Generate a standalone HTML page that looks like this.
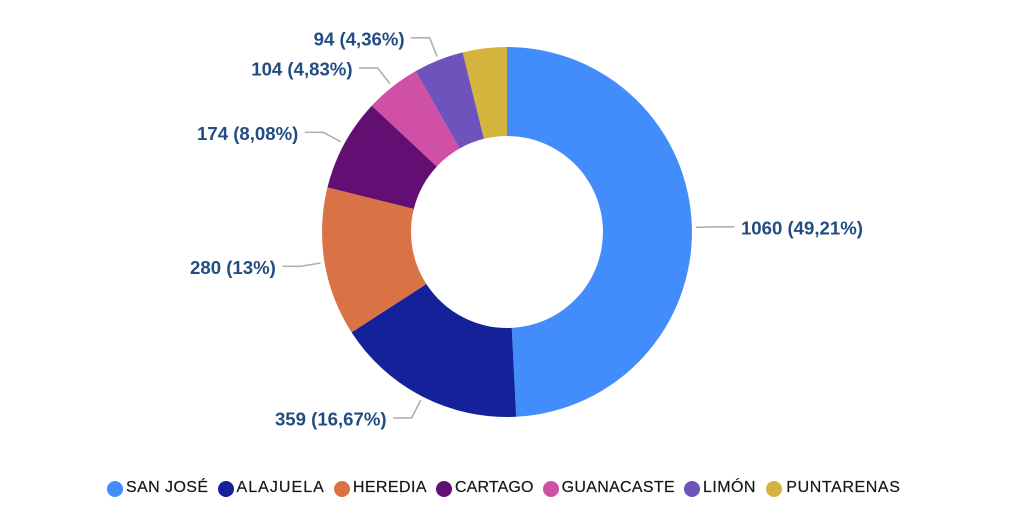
<!DOCTYPE html>
<html lang="es">
<head>
<meta charset="utf-8">
<title>Donut chart by province</title>
<style>
  html, body { margin: 0; padding: 0; background: #fff; }
  body { width: 1024px; height: 514px; overflow: hidden; position: relative; }
  #chart { position: absolute; left: 0; top: 0; }
  .slice-label { font: bold 18.6px "Liberation Sans", sans-serif; fill: #234d82; }
  #legend { position: absolute; left: 107px; top: 477px; display: flex; gap: 9px; align-items: center; height: 22px;
    font: 16px "Liberation Sans", sans-serif; letter-spacing: .42px; color: #161616; white-space: nowrap;
    -webkit-text-stroke: .2px #161616; }
  .entry { display: flex; align-items: center; gap: 3px; }
  .entry:nth-child(2) { letter-spacing: 1.04px; }
  .entry:nth-child(4) { letter-spacing: .14px; }
  .entry:nth-child(5) { letter-spacing: .32px; }
  .entry:nth-child(7) { letter-spacing: .6px; margin-left: 1.5px; gap: 4px; }
  .dot { width: 16px; height: 16px; border-radius: 50%; display: block; margin-top: 2px; }
</style>
</head>
<body>
<svg id="chart" width="1024" height="514" viewBox="0 0 1024 514"></svg>
<div id="legend"></div>
<script>
const categories = ["SAN JOSÉ", "ALAJUELA", "HEREDIA", "CARTAGO", "GUANACASTE", "LIMÓN", "PUNTARENAS"];
const values = [1060, 359, 280, 174, 104, 94, 83];
const percentLabels = ["49,21%", "16,67%", "13%", "8,08%", "4,83%", "4,36%", null];
const colors = ["#438cfb", "#152199", "#d97345", "#620e72", "#cf50a4", "#6e53bd", "#d4b43c"];

const NS = "http://www.w3.org/2000/svg";
const svg = document.getElementById("chart");
const legend = document.getElementById("legend");
const cx = 507, cy = 232, rOuter = 185, rInner = 96;
const total = values.reduce((a, b) => a + b, 0);

function angleOf(v) { return v / total * Math.PI * 2; }
function pt(r, a) { return [cx + r * Math.sin(a), cy - r * Math.cos(a)]; }
function fmt(p) { return p[0].toFixed(2) + " " + p[1].toFixed(2); }

let start = 0;
values.forEach(function (v, i) {
  const end = start + angleOf(v);
  const mid = (start + end) / 2;
  const large = end - start > Math.PI ? 1 : 0;
  const slice = document.createElementNS(NS, "path");
  slice.setAttribute("d",
    "M" + fmt(pt(rOuter, start)) +
    " A" + rOuter + " " + rOuter + " 0 " + large + " 1 " + fmt(pt(rOuter, end)) +
    " L" + fmt(pt(rInner, end)) +
    " A" + rInner + " " + rInner + " 0 " + large + " 0 " + fmt(pt(rInner, start)) + " Z");
  slice.setAttribute("fill", colors[i]);
  
  
  svg.appendChild(slice);

  if (percentLabels[i]) {
    const side = Math.sin(mid) >= 0 ? 1 : -1;
    const p1 = pt(rOuter + 4, mid);
    const p2 = pt(rOuter + 24, mid);
    const p3 = [p2[0] + side * 18.5, p2[1]];
    const leader = document.createElementNS(NS, "polyline");
    leader.setAttribute("points", [p1, p2, p3].map(fmt).join(" "));
    leader.setAttribute("fill", "none");
    leader.setAttribute("stroke", "#b0b0b0");
    leader.setAttribute("stroke-width", "1.6");
    
    
    svg.appendChild(leader);

    const label = document.createElementNS(NS, "text");
    label.setAttribute("x", (p3[0] + side * 6.5).toFixed(2));
    label.setAttribute("y", (p3[1] + 7.5).toFixed(2));
    label.setAttribute("text-anchor", side > 0 ? "start" : "end");
    label.setAttribute("class", "slice-label");
    
    
    label.textContent = v + " (" + percentLabels[i] + ")";
    svg.appendChild(label);
  }
  start = end;

  const entry = document.createElement("div");
  entry.className = "entry";
  
  
  const dot = document.createElement("span");
  dot.className = "dot";
  dot.style.background = colors[i];
  
  
  const text = document.createElement("span");
  text.textContent = categories[i];
  
  
  entry.appendChild(dot);
  entry.appendChild(text);
  legend.appendChild(entry);
});
</script>
</body>
</html>
